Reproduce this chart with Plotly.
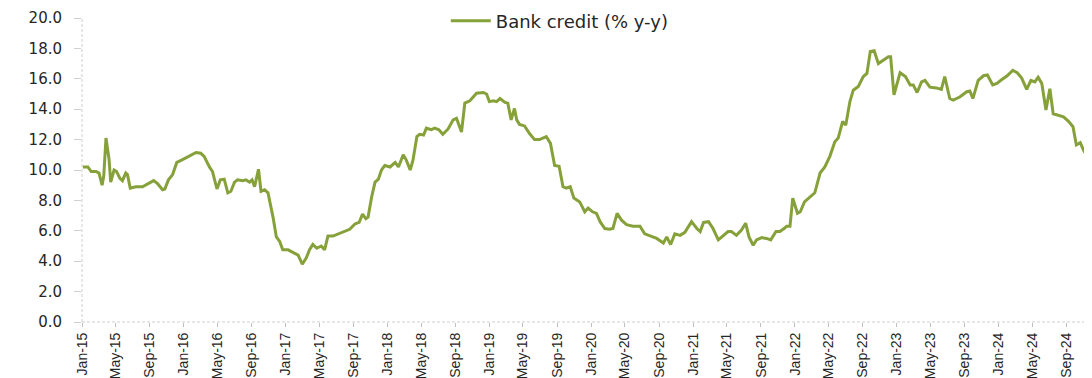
import plotly.graph_objects as go

# ---- data ----
dates = [
    "2015-01-04", "2015-01-22", "2015-02-03", "2015-02-20", "2015-03-03", "2015-03-14", "2015-03-20", "2015-03-28",
    "2015-04-08", "2015-04-14", "2015-04-26", "2015-05-05", "2015-05-17", "2015-05-26", "2015-06-07", "2015-06-13",
    "2015-06-23", "2015-07-13", "2015-08-06", "2015-08-24", "2015-09-15", "2015-09-29", "2015-10-17", "2015-10-25",
    "2015-11-07", "2015-11-22", "2015-12-07", "2015-12-24", "2016-01-09", "2016-01-27", "2016-02-14", "2016-03-02",
    "2016-03-14", "2016-04-02", "2016-04-13", "2016-04-29", "2016-05-11", "2016-05-25", "2016-06-07", "2016-06-18",
    "2016-07-01", "2016-07-12", "2016-07-30", "2016-08-11", "2016-08-24", "2016-09-02", "2016-09-11", "2016-09-25",
    "2016-10-04", "2016-10-17", "2016-10-29", "2016-11-16", "2016-11-28", "2016-12-10", "2016-12-21", "2017-01-09",
    "2017-01-27", "2017-02-14", "2017-03-01", "2017-03-15", "2017-03-27", "2017-04-08", "2017-04-22", "2017-05-08",
    "2017-05-20", "2017-06-01", "2017-06-19", "2017-07-07", "2017-08-01", "2017-08-18", "2017-09-06", "2017-09-21",
    "2017-10-03", "2017-10-15", "2017-10-23", "2017-11-05", "2017-11-17", "2017-11-29", "2017-12-10", "2017-12-22",
    "2018-01-10", "2018-01-28", "2018-02-09", "2018-02-26", "2018-03-09", "2018-03-23", "2018-04-02", "2018-04-16",
    "2018-04-26", "2018-05-10", "2018-05-20", "2018-06-07", "2018-06-19", "2018-07-04", "2018-07-18", "2018-08-06",
    "2018-08-24", "2018-09-05", "2018-09-23", "2018-10-05", "2018-10-23", "2018-11-16", "2018-12-10", "2018-12-22",
    "2019-01-01", "2019-01-15", "2019-01-27", "2019-02-08", "2019-02-26", "2019-03-08", "2019-03-20", "2019-04-01",
    "2019-04-09", "2019-04-19", "2019-05-07", "2019-05-25", "2019-06-12", "2019-06-30", "2019-07-24", "2019-08-08",
    "2019-08-23", "2019-09-08", "2019-09-22", "2019-10-04", "2019-10-18", "2019-10-31", "2019-11-21", "2019-12-09",
    "2019-12-21", "2020-01-06", "2020-01-20", "2020-02-02", "2020-02-19", "2020-03-07", "2020-03-19", "2020-04-03",
    "2020-04-19", "2020-05-07", "2020-05-30", "2020-06-24", "2020-07-11", "2020-08-05", "2020-08-23", "2020-09-16",
    "2020-09-28", "2020-10-12", "2020-10-27", "2020-11-15", "2020-12-02", "2020-12-26", "2021-01-14", "2021-01-26",
    "2021-02-07", "2021-02-25", "2021-03-13", "2021-04-01", "2021-04-18", "2021-05-06", "2021-05-18", "2021-06-05",
    "2021-06-23", "2021-07-08", "2021-07-20", "2021-08-04", "2021-08-16", "2021-09-04", "2021-09-21", "2021-10-06",
    "2021-10-25", "2021-11-08", "2021-11-23", "2021-12-02", "2021-12-14", "2021-12-24", "2022-01-10", "2022-01-20",
    "2022-02-04", "2022-02-25", "2022-03-13", "2022-04-01", "2022-04-18", "2022-05-06", "2022-05-24", "2022-06-05",
    "2022-06-21", "2022-07-02", "2022-07-17", "2022-07-29", "2022-08-16", "2022-09-03", "2022-09-16", "2022-09-28",
    "2022-10-12", "2022-10-27", "2022-11-14", "2022-12-02", "2022-12-10", "2022-12-22", "2023-01-13", "2023-02-01",
    "2023-02-18", "2023-03-01", "2023-03-15", "2023-03-31", "2023-04-12", "2023-04-30", "2023-05-23", "2023-06-10",
    "2023-06-22", "2023-07-10", "2023-07-22", "2023-08-15", "2023-09-09", "2023-09-20", "2023-10-01", "2023-10-20",
    "2023-11-08", "2023-11-22", "2023-12-11", "2023-12-26", "2024-01-13", "2024-02-01", "2024-02-21", "2024-03-08",
    "2024-03-24", "2024-04-11", "2024-04-26", "2024-05-10", "2024-05-22", "2024-06-04", "2024-06-19", "2024-07-03",
    "2024-07-15", "2024-08-06", "2024-08-21", "2024-09-08", "2024-09-24", "2024-10-06", "2024-10-20", "2024-11-01",
    "2024-11-19",
]

bank_credit = [
    10.2, 10.2, 9.9, 9.9, 9.8, 9.0, 9.6, 12.1,
    10.7, 9.2, 10.0, 9.9, 9.45, 9.3, 9.8, 9.7,
    8.8, 8.9, 8.9, 9.1, 9.3, 9.1, 8.7, 8.75,
    9.35, 9.7, 10.5, 10.65, 10.8, 11.0, 11.15, 11.1,
    10.9, 10.2, 9.9, 8.75, 9.35, 9.4, 8.5, 8.6,
    9.2, 9.35, 9.3, 9.35, 9.2, 9.35, 8.9, 10.05,
    8.6, 8.7, 8.5, 6.9, 5.6, 5.3, 4.75, 4.75,
    4.55, 4.4, 3.8, 4.2, 4.75, 5.1, 4.85, 5.0,
    4.75, 5.65, 5.65, 5.8, 6.0, 6.1, 6.45, 6.55,
    7.1, 6.8, 6.9, 8.25, 9.2, 9.4, 10.0, 10.3,
    10.2, 10.5, 10.2, 11.0, 10.65, 10.0, 10.65, 12.2,
    12.35, 12.3, 12.75, 12.65, 12.75, 12.65, 12.35, 12.7,
    13.3, 13.4, 12.5, 14.4, 14.55, 15.05, 15.1, 15.0,
    14.5, 14.55, 14.5, 14.7, 14.45, 14.4, 13.3, 14.05,
    13.3, 13.0, 12.9, 12.4, 12.0, 12.0, 12.2, 11.75,
    10.3, 10.25, 8.9, 8.8, 8.9, 8.15, 7.9, 7.25,
    7.5, 7.25, 7.15, 6.6, 6.15, 6.1, 6.15, 7.15,
    6.7, 6.4, 6.3, 6.3, 5.8, 5.6, 5.5, 5.2,
    5.6, 5.1, 5.8, 5.7, 5.9, 6.6, 6.15, 5.95,
    6.55, 6.6, 6.15, 5.4, 5.7, 5.95, 5.95, 5.7,
    6.05, 6.5, 5.6, 5.05, 5.4, 5.55, 5.5, 5.4,
    5.95, 5.95, 6.15, 6.3, 6.3, 8.15, 7.15, 7.25,
    7.9, 8.25, 8.5, 9.8, 10.2, 10.9, 11.85, 12.1,
    13.2, 12.95, 14.5, 15.25, 15.5, 16.15, 16.35, 17.8,
    17.85, 17.0, 17.25, 17.45, 17.45, 14.95, 16.4, 16.15,
    15.6, 15.6, 15.1, 15.8, 15.9, 15.45, 15.4, 15.3,
    16.15, 14.7, 14.6, 14.8, 15.15, 15.2, 14.7, 15.9,
    16.2, 16.25, 15.6, 15.7, 15.95, 16.2, 16.55, 16.4,
    16.05, 15.3, 15.9, 15.8, 16.1, 15.7, 13.95, 15.35,
    13.7, 13.6, 13.5, 13.2, 12.85, 11.65, 11.8, 11.3,
    10.7,
]

series_name = "Bank credit (% y-y)"
y_ticks = [0, 2, 4, 6, 8, 10, 12, 14, 16, 18, 20]
y_tick_labels = ["0.0", "2.0", "4.0", "6.0", "8.0", "10.0", "12.0", "14.0", "16.0", "18.0", "20.0"]
x_start, x_end = "2015-01-01", "2024-11-24"

LINE = "#86a13a"
AXIS = "#cfcfcf"
TEXT = "#262626"

# The page body adds an 8px offset, so the figure is sized to fill the rest of the window.
W, H = 1084, 370

fig = go.Figure()
fig.add_trace(go.Scatter(
    x=dates, y=bank_credit, mode="lines", name=series_name,
    line=dict(color=LINE, width=3), showlegend=True,
))

fig.update_layout(
    width=W, height=H,
    margin=dict(l=74, r=2, t=10, b=56, autoexpand=False),
    paper_bgcolor="white", plot_bgcolor="white",
    showlegend=True,
    legend=dict(
        orientation="h", x=0.474, xanchor="center",
        yref="container", y=1 - 13 / H, yanchor="middle",
        font=dict(family="DejaVu Sans", size=18, color=TEXT),
        bgcolor="rgba(0,0,0,0)", itemwidth=40,
    ),
    xaxis=dict(
        type="date", range=[x_start, x_end], automargin=False,
        tick0="2015-01-01", dtick="M4", tickformat="%b-%y",
        tickangle=-90, ticks="outside", ticklen=4, tickcolor="#bfbfbf",
        showgrid=False, showline=False, zeroline=False,
        tickfont=dict(family="Liberation Sans", size=14, color=TEXT),
    ),
    yaxis=dict(
        range=[0, 20], tickvals=y_ticks, ticktext=y_tick_labels, automargin=False,
        ticks="outside", ticklen=7, tickcolor="#d0d0d0",
        showgrid=False, showline=False, zeroline=False,
        ticklabelstandoff=9,
        tickfont=dict(family="DejaVu Sans", size=15, color=TEXT),
    ),
    shapes=[
        dict(type="line", xref="paper", yref="paper", x0=0, x1=0, y0=0, y1=1,
             line=dict(color=AXIS, width=1, dash="3px,2px")),
        dict(type="line", xref="paper", yref="paper", x0=0, x1=1, y0=0, y1=0,
             line=dict(color=AXIS, width=1, dash="3px,2px")),
    ],
)

fig.write_html("out.html")
